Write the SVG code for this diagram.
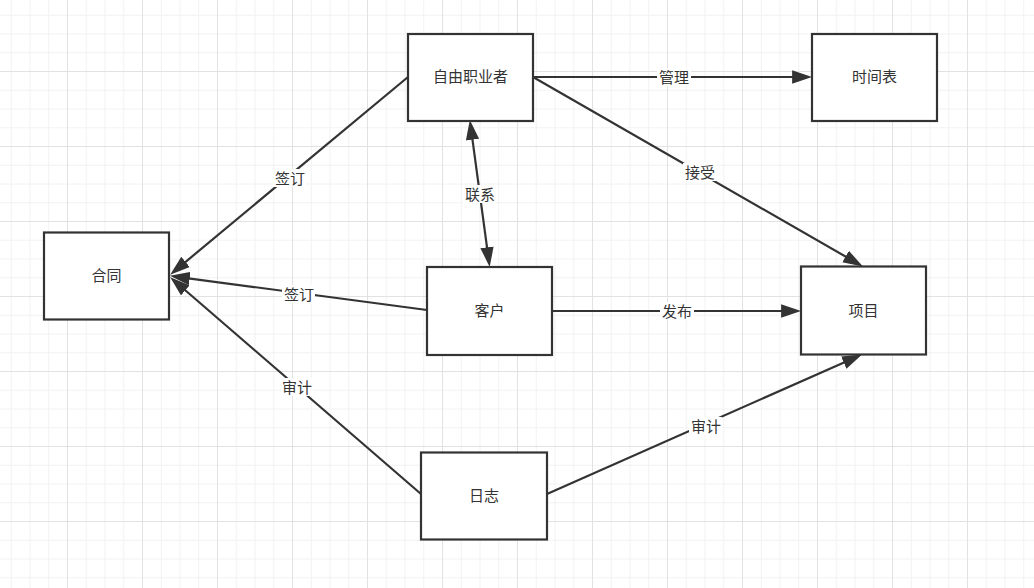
<svg xmlns="http://www.w3.org/2000/svg" width="1034" height="588" viewBox="0 0 1034 588">
<defs>
<pattern id="grid" patternUnits="userSpaceOnUse" x="67" y="71" width="75" height="75">
<path d="M19.25 0V75M38 0V75M56.75 0V75M0 19.25H75M0 38H75M0 56.75H75" stroke="#f2f2f2" stroke-width="1" fill="none"/>
<path d="M0.5 0V75M0 0.5H75" stroke="#e2e2e2" stroke-width="1" fill="none"/>
</pattern>
<marker id="arr" markerUnits="userSpaceOnUse" markerWidth="20" markerHeight="14" refX="8" refY="6" orient="auto-start-reverse" viewBox="0 0 18 12">
<path d="M0,0 L18,6 L0,12 z" fill="#333"/>
</marker>
</defs>
<style>
.node rect{fill:#fff;stroke:#333;stroke-width:2.2}
.node text{font-family:"Microsoft YaHei","Noto Sans CJK SC",sans-serif;font-size:15px;fill:#333;text-anchor:middle;dominant-baseline:central}
.edge{fill:none;stroke:#333;stroke-width:2.2}
.lbl rect{fill:#fff}
.lbl text{font-family:"Microsoft YaHei","Noto Sans CJK SC",sans-serif;font-size:15px;fill:#333;text-anchor:middle;dominant-baseline:central}
</style>
<rect width="1034" height="588" fill="#fff"/>
<rect width="1034" height="588" fill="url(#grid)"/>
<g id="connectors">
<line class="edge" x1="408" y1="77" x2="178.7" y2="267.6" marker-end="url(#arr)"/>
<line class="edge" x1="427" y1="310" x2="180.9" y2="277.3" marker-end="url(#arr)"/>
<line class="edge" x1="421" y1="494" x2="178.6" y2="284.5" marker-end="url(#arr)"/>
<line class="edge" x1="533" y1="77" x2="801" y2="77" marker-end="url(#arr)"/>
<line class="edge" x1="533" y1="77" x2="853.3" y2="261" marker-end="url(#arr)"/>
<line class="edge" x1="471.3" y1="130.9" x2="488.2" y2="256.1" marker-start="url(#arr)" marker-end="url(#arr)"/>
<line class="edge" x1="552" y1="311" x2="790" y2="311" marker-end="url(#arr)"/>
<line class="edge" x1="547" y1="494" x2="851.9" y2="359" marker-end="url(#arr)"/>
<g class="lbl"><rect x="273" y="169" width="33" height="18"/><text x="290" y="177.5">签订</text></g>
<g class="lbl"><rect x="282" y="285" width="33" height="18"/><text x="299" y="293.5">签订</text></g>
<g class="lbl"><rect x="280" y="378" width="33" height="18"/><text x="297" y="386.5">审计</text></g>
<g class="lbl"><rect x="657" y="68" width="34" height="18"/><text x="674" y="76.5">管理</text></g>
<g class="lbl"><rect x="683" y="163" width="33" height="18"/><text x="700" y="171.5">接受</text></g>
<g class="lbl"><rect x="463" y="185" width="33" height="18"/><text x="480" y="193.5">联系</text></g>
<g class="lbl"><rect x="660" y="302" width="34" height="18"/><text x="677" y="310.5">发布</text></g>
<g class="lbl"><rect x="689" y="417" width="33" height="18"/><text x="706" y="425.5">审计</text></g>
</g>
<g id="node-freelancer" class="node"><rect x="408" y="34" width="125" height="87"/><text x="470.5" y="75.5">自由职业者</text></g>
<g id="node-schedule" class="node"><rect x="812" y="34" width="125" height="87"/><text x="874.5" y="75.5">时间表</text></g>
<g id="node-contract" class="node"><rect x="44" y="232.5" width="125" height="87"/><text x="106.5" y="274.5">合同</text></g>
<g id="node-client" class="node"><rect x="427" y="267" width="125" height="88"/><text x="489.5" y="309.5">客户</text></g>
<g id="node-project" class="node"><rect x="801" y="266.5" width="125" height="88"/><text x="863.5" y="309.5">项目</text></g>
<g id="node-log" class="node"><rect x="421" y="452.5" width="126" height="87"/><text x="484" y="494.5">日志</text></g>
</svg>
